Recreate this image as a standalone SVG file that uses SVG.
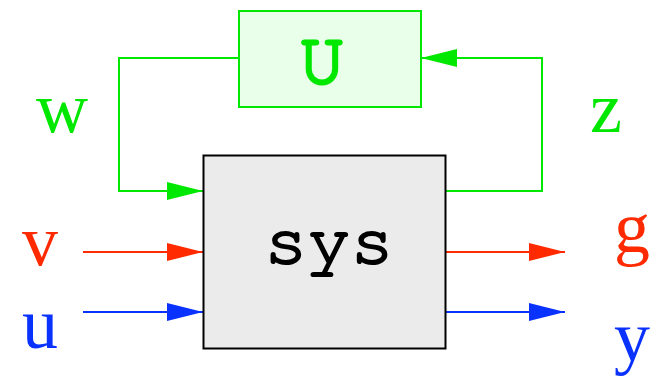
<svg xmlns="http://www.w3.org/2000/svg" width="660" height="377" viewBox="0 0 660 377">
  <style>
    .wire { fill: none; stroke-width: 2; }
    .g { stroke: #00e800; }
    .r { stroke: #ff2a00; }
    .b { stroke: #0a32ff; }
    .lbl { font-family: "Liberation Serif", "Times New Roman", serif; font-size: 72px; }
    .mono { font-family: "Nimbus Mono PS", "FreeMono", "Liberation Mono", "Courier New", monospace; text-anchor: middle; }
  </style>
  <defs>
    <marker id="ah-g" markerUnits="userSpaceOnUse" markerWidth="37" markerHeight="20" refX="36" refY="10" orient="auto">
      <path d="M0,1 L36,10 L0,19 Z" fill="#00e800"/>
    </marker>
    <marker id="ah-r" markerUnits="userSpaceOnUse" markerWidth="37" markerHeight="20" refX="36" refY="10" orient="auto">
      <path d="M0,1 L36,10 L0,19 Z" fill="#ff2a00"/>
    </marker>
    <marker id="ah-b" markerUnits="userSpaceOnUse" markerWidth="37" markerHeight="20" refX="36" refY="10" orient="auto">
      <path d="M0,1 L36,10 L0,19 Z" fill="#0a32ff"/>
    </marker>
  </defs>

  <g id="connectors">
    <polyline class="wire g" points="239,58 119,58 119,191 203,191" marker-end="url(#ah-g)"/>
    <polyline class="wire g" points="445,191 542,191 542,58 421,58" marker-end="url(#ah-g)"/>
    <line class="wire r" x1="83" y1="252" x2="203" y2="252" marker-end="url(#ah-r)"/>
    <line class="wire b" x1="83" y1="312" x2="203" y2="312" marker-end="url(#ah-b)"/>
    <line class="wire r" x1="445" y1="252" x2="565" y2="252" marker-end="url(#ah-r)"/>
    <line class="wire b" x1="445" y1="312" x2="565" y2="312" marker-end="url(#ah-b)"/>
  </g>

  <g id="U">
    <rect x="239" y="11" width="182" height="96" fill="#eaffea" stroke="#00e800" stroke-width="2"/>
    <text class="mono" x="322" y="83" font-size="74" fill="#00e800" stroke="#00e800" stroke-width="3">U</text>
  </g>

  <g id="sys">
    <rect x="203.5" y="155.5" width="242" height="193" fill="#ebebeb" stroke="#000" stroke-width="2"/>
    <text class="mono" x="329" y="263" font-size="72" fill="#000" stroke="#000" stroke-width="2.2">sys</text>
  </g>

  <g id="labels">
    <text class="lbl" x="36" y="132" fill="#00e800">w</text>
    <text class="lbl" x="590" y="132" fill="#00e800">z</text>
    <text class="lbl" x="22" y="265" fill="#ff2a00">v</text>
    <text class="lbl" x="22" y="348" fill="#0a32ff">u</text>
    <text class="lbl" x="614" y="252" fill="#ff2a00">g</text>
    <text class="lbl" x="614" y="361" fill="#0a32ff">y</text>
  </g>
</svg>
